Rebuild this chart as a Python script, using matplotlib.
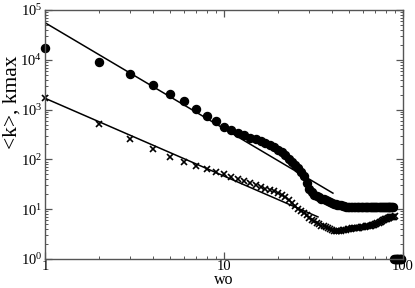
import matplotlib
matplotlib.use("Agg")
from matplotlib import pyplot as plt
from matplotlib.ticker import LogLocator, NullFormatter

plt.rcParams['font.family'] = ['Liberation Serif', 'DejaVu Serif']
plt.rcParams['mathtext.fontset'] = 'custom'
plt.rcParams['mathtext.rm'] = 'Liberation Serif'

# kmax (circles), wo = 1..98
kmax_wo = list(range(1, 99))
kmax = [17000, 9000, 5200, 3100, 2050, 1490, 1030, 745, 590, 448,
        390, 339, 302, 275, 257, 234, 218, 199, 178, 158,
        138, 120, 102, 87, 76, 66, 57, 47, 33, 25,
        22, 19.5, 18, 17.2, 16.4, 15.7, 15, 14.3, 14, 13.3,
        13, 12.8, 12.4, 12.1, 11.9, 11.6, 11.4, 11.3, 11.2, 11.1,
        11.1, 11.0, 11.0, 11.0, 11.0, 11.0, 11.0, 11.0, 11.0, 11.0,
        11.0, 11.0, 11.0, 11.0, 11.0, 11.0, 11.0, 11.0, 11.0, 11.0,
        11.0, 11.0, 11.0, 11.0, 11.0, 11.0, 11.0, 11.0, 11.0, 11.0,
        11.0, 11.0, 11.0, 11.0, 11.0, 11.0, 11.0, 11.0,
        1, 1, 1, 1, 1, 1, 1, 1, 1, 1]

# <k> (crosses), wo = 1..90
kavg_wo = list(range(1, 91))
kavg = [1700, 510, 257, 162, 112, 89, 74, 64, 56, 51,
        44.3, 40.4, 36.8, 33.6, 30.6, 27.9, 26.0, 24.3, 22.7, 21.6,
        19.7, 17.6, 15.3, 13.3, 11.6, 10.1, 9.2, 8.4, 7.5, 6.7,
        6.2, 5.8, 5.4, 5.0, 4.7, 4.5, 4.3, 4.1, 4.0, 3.8,
        3.7, 3.65, 3.65, 3.7, 3.7, 3.8, 3.85, 3.85, 3.95, 4.0,
        4.05, 4.1, 4.1, 4.15, 4.2, 4.2, 4.25, 4.3, 4.35, 4.4,
        4.45, 4.5, 4.55, 4.6, 4.65, 4.7, 4.8, 4.85, 4.9, 5.0,
        5.1, 5.25, 5.4, 5.5, 5.65, 5.8, 5.95, 6.1, 6.25, 6.4,
        6.5, 6.6, 6.7, 6.8, 6.9, 7.0, 7.0, 7.1, 7.1, 7.2]

# power-law fit lines (endpoints)
fit_kmax_x = [1, 40.6]
fit_kmax_y = [55600, 21]
fit_kavg_x = [1, 33.5]
fit_kavg_y = [1690, 7.0]

fig = plt.figure(figsize=(4.15, 2.88), dpi=100)
ax = fig.add_axes([45 / 415, 29 / 288, 358 / 415, 249 / 288])

ax.plot(fit_kmax_x, fit_kmax_y, color='black', lw=1.1)
ax.plot(fit_kavg_x, fit_kavg_y, color='black', lw=1.1)
ax.plot(kmax_wo, kmax, 'o', color='black', ms=5.8, clip_on=False)
ax.plot(kavg_wo, kavg, 'x', color='black', ms=4.5, mew=1.2, clip_on=False)

ax.set_xscale('log')
ax.set_yscale('log')
ax.set_xlim(1, 100)
ax.set_ylim(1, 1e5)

ax.set_xticks([1, 10, 100])
ax.set_xticklabels(['1', '10', '100'])
ax.yaxis.set_major_locator(LogLocator(base=10, numticks=10))
ax.yaxis.set_minor_locator(LogLocator(base=10, subs=range(2, 10), numticks=10))
ax.xaxis.set_minor_locator(LogLocator(base=10, subs=range(2, 10), numticks=10))
ax.xaxis.set_minor_formatter(NullFormatter())

for s in ax.spines.values():
    s.set_color('#555555')
    s.set_linewidth(1.0)
ax.tick_params(which='both', direction='in', top=True, right=True,
               color='#555555', labelsize=10.5)
ax.tick_params(which='major', length=5, width=0.9)
ax.tick_params(which='minor', length=2.5, width=0.7)
ax.tick_params(axis='x', pad=1)
ax.tick_params(axis='y', pad=2)

# axis titles placed as in the reference
fig.text(224 / 415, 1 - 280 / 288, 'wo', ha='center', va='center', fontsize=11.5)
fig.text(12 / 415, 1 - 102 / 288, '<k>, kmax', ha='center', va='center',
         rotation=90, fontsize=15.5)

fig.savefig('out.png', dpi=100)
